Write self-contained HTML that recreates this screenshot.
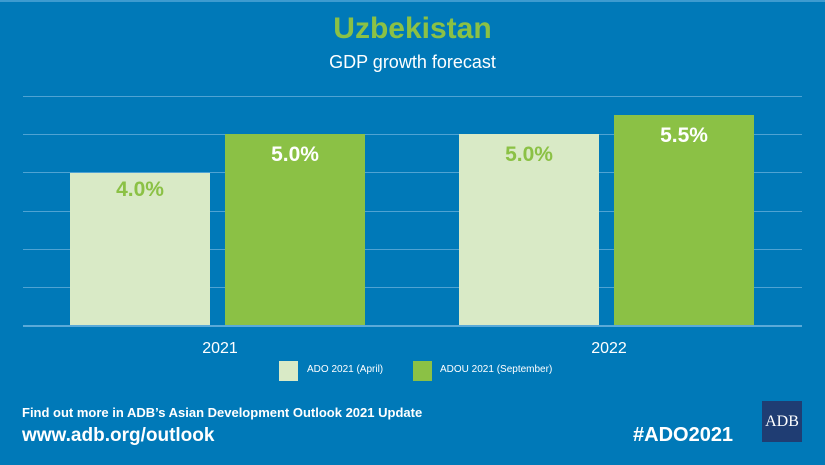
<!DOCTYPE html>
<html><head><style>
body{margin:0;width:825px;height:465px;overflow:hidden;background:#0079b8;font-family:"Liberation Sans",sans-serif;position:relative}
div{position:absolute}
.g{left:23px;width:779px;height:1px;background:#4fa3d3}
.b{width:140px}
.l{background:#d9eac6}.d{background:#8bc145}
.v{font-weight:bold;font-size:21px;width:140px;text-align:center}
</style></head><body>
<div style="left:0;top:0;width:825px;height:2px;background:#3d9bd0"></div>
<div style="left:0;top:12px;width:825px;text-align:center;color:#8bc145;font-size:30px;font-weight:bold">Uzbekistan</div>
<div style="left:0;top:52px;width:825px;text-align:center;color:#fff;font-size:18px">GDP growth forecast</div>
<div class="g" style="top:96px"></div>
<div class="g" style="top:134px"></div>
<div class="g" style="top:172px"></div>
<div class="g" style="top:211px"></div>
<div class="g" style="top:249px"></div>
<div class="g" style="top:287px"></div>
<div class="b l" style="left:70px;top:173px;height:153px"></div>
<div class="b d" style="left:225px;top:134px;height:192px"></div>
<div class="b l" style="left:459px;top:134px;height:192px"></div>
<div class="b d" style="left:614px;top:115px;height:211px"></div>
<div class="g" style="top:325px;height:2px;background:#5aaad8"></div>
<div class="v" style="left:70px;top:178px;color:#8bc145">4.0%</div>
<div class="v" style="left:225px;top:143px;color:#fff">5.0%</div>
<div class="v" style="left:459px;top:143px;color:#8bc145">5.0%</div>
<div class="v" style="left:614px;top:124px;color:#fff">5.5%</div>
<div style="left:180px;top:340px;width:80px;text-align:center;color:#fff;font-size:16px">2021</div>
<div style="left:569px;top:340px;width:80px;text-align:center;color:#fff;font-size:16px">2022</div>
<div class="l" style="left:279px;top:361px;width:19px;height:20px"></div>
<div style="left:307px;top:364px;color:#fff;font-size:10px">ADO 2021 (April)</div>
<div class="d" style="left:413px;top:361px;width:19px;height:20px"></div>
<div style="left:440px;top:364px;color:#fff;font-size:10px">ADOU 2021 (September)</div>
<div style="left:22px;top:405px;color:#fff;font-size:13px;font-weight:bold">Find out more in ADB’s Asian Development Outlook 2021 Update</div>
<div style="left:22px;top:425px;color:#fff;font-size:19px;font-weight:bold">www.adb.org/outlook</div>
<div style="left:633px;top:424px;color:#fff;font-size:20px;font-weight:bold">#ADO2021</div>
<div style="left:762px;top:401px;width:40px;height:41px;background:#1f3d73;color:#fff;font-family:'Liberation Serif',serif;font-size:16px;text-align:center;line-height:41px">ADB</div>
</body></html>
